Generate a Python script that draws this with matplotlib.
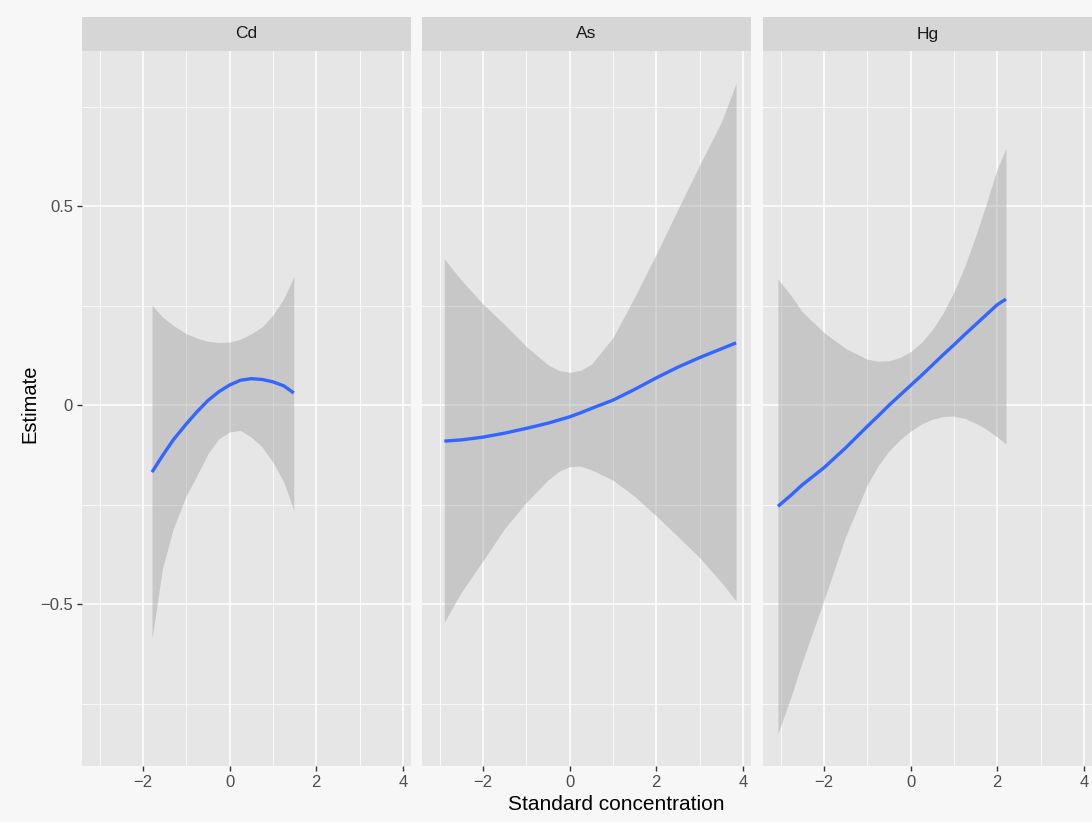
import matplotlib.pyplot as plt
import numpy as np

plt.rcParams['font.family'] = ['Liberation Sans', 'DejaVu Sans']

# values
panels = ['Cd', 'As', 'Hg']

cd_x = [-1.79, -1.55, -1.3, -1.0, -0.75, -0.5, -0.25, 0.0, 0.25, 0.5, 0.75, 1.0, 1.25, 1.48]
cd_fit = [-0.168, -0.127, -0.087, -0.047, -0.016, 0.012, 0.034, 0.051, 0.063, 0.067, 0.065, 0.059, 0.049, 0.031]
cd_upper = [0.252, 0.222, 0.201, 0.180, 0.169, 0.161, 0.158, 0.159, 0.166, 0.180, 0.197, 0.227, 0.268, 0.323]
cd_lower = [-0.587, -0.411, -0.310, -0.227, -0.176, -0.122, -0.084, -0.067, -0.063, -0.080, -0.105, -0.143, -0.193, -0.264]

as_x = [-2.89, -2.5, -2.0, -1.5, -1.0, -0.5, -0.25, 0.0, 0.25, 0.5, 1.0, 1.5, 2.0, 2.5, 3.0, 3.5, 3.84]
as_fit = [-0.090, -0.087, -0.080, -0.070, -0.058, -0.045, -0.037, -0.029, -0.019, -0.008, 0.013, 0.040, 0.069, 0.096, 0.120, 0.142, 0.157]
as_upper = [0.368, 0.315, 0.255, 0.203, 0.148, 0.102, 0.088, 0.083, 0.088, 0.103, 0.170, 0.272, 0.380, 0.493, 0.604, 0.712, 0.809]
as_lower = [-0.545, -0.470, -0.391, -0.310, -0.244, -0.188, -0.166, -0.154, -0.153, -0.162, -0.188, -0.229, -0.278, -0.330, -0.383, -0.445, -0.492]

hg_x = [-3.06, -2.75, -2.5, -2.0, -1.5, -1.0, -0.75, -0.5, -0.25, 0.0, 0.25, 0.5, 0.75, 1.0, 1.25, 1.5, 1.75, 2.0, 2.2]
hg_fit = [-0.254, -0.225, -0.200, -0.157, -0.107, -0.053, -0.027, 0.0, 0.025, 0.050, 0.075, 0.101, 0.127, 0.152, 0.178, 0.203, 0.228, 0.253, 0.267]
hg_upper = [0.317, 0.275, 0.235, 0.183, 0.143, 0.116, 0.111, 0.112, 0.120, 0.135, 0.158, 0.190, 0.232, 0.285, 0.350, 0.425, 0.508, 0.595, 0.645]
hg_lower = [-0.825, -0.730, -0.645, -0.490, -0.330, -0.200, -0.152, -0.115, -0.087, -0.065, -0.047, -0.035, -0.028, -0.027, -0.033, -0.045, -0.060, -0.080, -0.097]

xs = [cd_x, as_x, hg_x]
fits = [cd_fit, as_fit, hg_fit]
uppers = [cd_upper, as_upper, hg_upper]
lowers = [cd_lower, as_lower, hg_lower]

x_major = [-2, 0, 2, 4]
x_minor = [-3, -1, 1, 3]
y_major = [-0.5, 0, 0.5]
y_minor = [-0.75, -0.25, 0.25, 0.75]

# ggplot style 5% expansion of the shared scales
allx = np.concatenate([np.array(v) for v in xs])
ally = np.concatenate([np.array(v) for v in uppers + lowers])
xr = allx.max() - allx.min()
yr = ally.max() - ally.min()
xlim = (allx.min() - 0.05 * xr, allx.max() + 0.05 * xr)
ylim = (ally.min() - 0.05 * yr, ally.max() + 0.05 * yr)

W, H = 1092, 822
fig = plt.figure(figsize=(W / 100, H / 100), dpi=100, facecolor='#f7f7f7')

lefts = [82, 422, 763]
pw = 329
top, strip_top, bottom = 51, 17, 766

for i, name in enumerate(panels):
    ax = fig.add_axes([lefts[i] / W, 1 - bottom / H, pw / W, (bottom - top) / H])
    ax.set_facecolor('#e6e6e6')
    for s in ax.spines.values():
        s.set_visible(False)
    ax.set_xlim(xlim)
    ax.set_ylim(ylim)
    ax.set_xticks(x_major)
    ax.set_xticks(x_minor, minor=True)
    ax.set_yticks(y_major)
    ax.set_yticks(y_minor, minor=True)
    ax.grid(which='major', color='white', linewidth=1.1)
    ax.grid(which='minor', color='white', linewidth=0.55)
    ax.set_axisbelow(True)
    ax.tick_params(which='minor', length=0)
    ax.tick_params(which='major', length=3.5, width=1.0, color='#333333',
                   labelcolor='#4d4d4d', labelsize=12, pad=3)
    ax.set_xticklabels(['\u22122', '0', '2', '4'])
    if i == 0:
        ax.set_yticklabels(['\u22120.5', '0', '0.5'])
    else:
        ax.tick_params(axis='y', which='both', left=False, labelleft=False)

    ax.fill_between(xs[i], lowers[i], uppers[i], color='#999999', alpha=0.4, linewidth=0)
    ax.plot(xs[i], fits[i], color='#3366FF', linewidth=2.4, solid_capstyle='butt')

    sax = fig.add_axes([lefts[i] / W, 1 - top / H, pw / W, (top - strip_top) / H])
    sax.set_facecolor('#d6d6d6')
    sax.set_xticks([])
    sax.set_yticks([])
    for s in sax.spines.values():
        s.set_visible(False)
    sax.text(0.5, 0.5, name, ha='center', va='center', fontsize=12.5, color='#1a1a1a',
             transform=sax.transAxes)

fig.text(616 / W, 1 - 804 / H, 'Standard concentration', ha='center', va='center',
         fontsize=15, color='black')
fig.text(30 / W, 1 - 404 / H, 'Estimate', ha='center', va='center', rotation=90,
         fontsize=14.5, color='black')

fig.savefig('out.png', dpi=100, facecolor=fig.get_facecolor())
